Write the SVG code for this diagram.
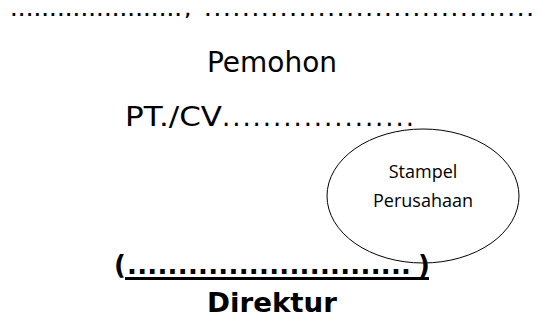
<svg xmlns="http://www.w3.org/2000/svg" width="540" height="326" viewBox="0 0 540 326">
<style>
.t{font-family:"DejaVu Sans","Liberation Sans",sans-serif;fill:#000}
.b{font-weight:bold}
.d{font-family:"DejaVu Sans","Liberation Sans",sans-serif;font-size:15px;font-weight:bold;fill:#000}
.s{font-family:"Open Sans","Liberation Sans",sans-serif;font-size:18px;fill:#000;text-anchor:middle}
</style>
<rect width="540" height="326" fill="#fff"/>
<g id="date">
<text class="d" x="11" y="16" textLength="170" lengthAdjust="spacing">......................</text>
<text class="d" x="185" y="16">,</text>
<text class="d" x="205" y="16" textLength="328" lengthAdjust="spacing">...................................</text>
</g>
<g id="pemohon">
<text class="t" x="207" y="72" font-size="29" textLength="130" lengthAdjust="spacingAndGlyphs">Pemohon</text>
</g>
<g id="ptcv">
<text class="t" x="125" y="126" font-size="26" textLength="97" lengthAdjust="spacingAndGlyphs">PT./CV</text>
<text class="t" x="222" y="126" font-size="26" textLength="192" lengthAdjust="spacing">...................</text>
</g>
<g id="stampel">
<ellipse cx="423" cy="196" rx="96" ry="67" fill="#fff" stroke="#000" stroke-width="1"/>
<text class="s" x="423" y="178">Stampel</text>
<text class="s" x="423" y="207">Perusahaan</text>
</g>
<g id="signature">
<text class="t b" x="114" y="274" font-size="26">(</text>
<text class="t b" x="127" y="274" font-size="26" textLength="284" lengthAdjust="spacing">............................</text>
<text class="t b" x="418" y="274" font-size="26">)</text>
<line x1="125" y1="278.5" x2="429" y2="278.5" stroke="#000" stroke-width="3"/>
</g>
<g id="direktur">
<text class="t b" x="207" y="312" font-size="27" textLength="130" lengthAdjust="spacingAndGlyphs">Direktur</text>
</g>
</svg>
